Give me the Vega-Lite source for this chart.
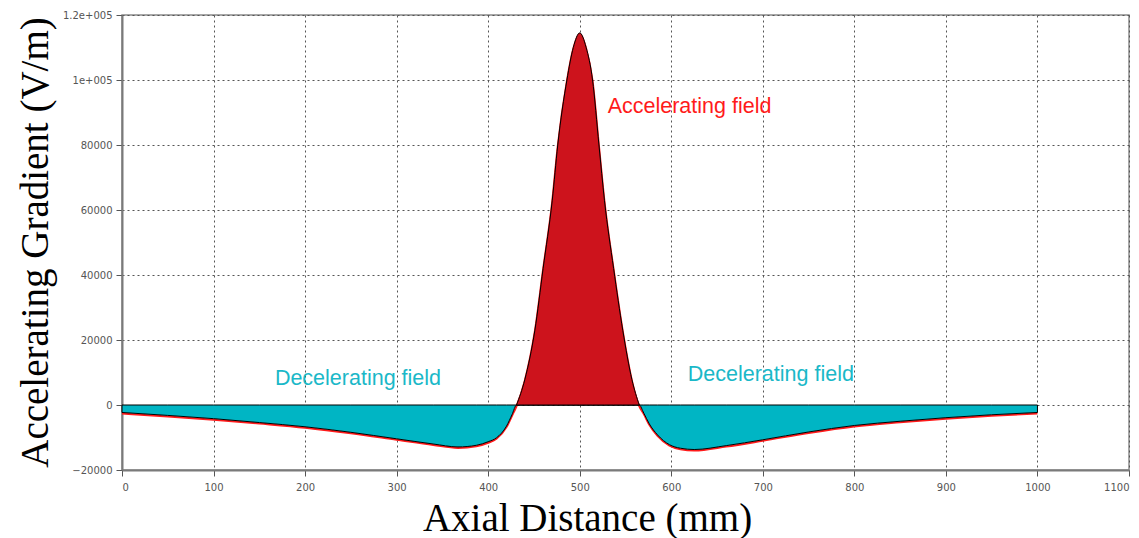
{
  "$schema": "https://vega.github.io/schema/vega-lite/v6.json",
  "width": 1007,
  "height": 455,
  "autosize": {"type": "none"},
  "padding": {"left": 122, "top": 15, "right": 10, "bottom": 68},
  "background": "white",
  "config": {
    "view": {"stroke": "#8a8a8a", "strokeWidth": 1.5},
    "axis": {
      "labelFont": "DejaVu Sans",
      "labelFontSize": 10,
      "labelColor": "#555555",
      "grid": true,
      "gridColor": "#555555",
      "gridDash": [2, 3],
      "gridWidth": 1,
      "domainColor": "#7a7a7a",
      "domainWidth": 2,
      "tickColor": "#555555",
      "tickSize": 6,
      "titleFont": "Liberation Serif",
      "titleFontWeight": "normal",
      "titleColor": "black",
      "titleFontSize": 39
    }
  },
  "datasets": {
    "field": [
      {"x": 0, "v": -2300}, {"x": 50, "v": -3200}, {"x": 100, "v": -4200},
      {"x": 150, "v": -5400}, {"x": 200, "v": -6700}, {"x": 250, "v": -8400},
      {"x": 300, "v": -10400}, {"x": 340, "v": -12000}, {"x": 367, "v": -12900},
      {"x": 387, "v": -12400}, {"x": 400, "v": -11300}, {"x": 409, "v": -10100},
      {"x": 420, "v": -6500}, {"x": 426, "v": -3000}, {"x": 431, "v": 0},
      {"x": 440, "v": 7800}, {"x": 451, "v": 23000}, {"x": 460, "v": 42000},
      {"x": 470, "v": 63000}, {"x": 476, "v": 80000}, {"x": 486, "v": 100000},
      {"x": 493, "v": 110000}, {"x": 500, "v": 114500}, {"x": 507, "v": 110000},
      {"x": 514, "v": 100000}, {"x": 521, "v": 80000}, {"x": 527, "v": 63000},
      {"x": 537, "v": 42000}, {"x": 547, "v": 23000}, {"x": 557, "v": 7800},
      {"x": 565, "v": 0}, {"x": 570, "v": -2500}, {"x": 576, "v": -5800},
      {"x": 585, "v": -9200}, {"x": 598, "v": -12200}, {"x": 610, "v": -13300},
      {"x": 625, "v": -13700}, {"x": 660, "v": -12500}, {"x": 700, "v": -10700},
      {"x": 750, "v": -8300}, {"x": 800, "v": -6300}, {"x": 850, "v": -5000},
      {"x": 900, "v": -3900}, {"x": 950, "v": -3000}, {"x": 1000, "v": -2300}
    ],
    "notes": [
      {"x": 167, "v": 8000, "label": "Decelerating field", "kind": "dec"},
      {"x": 530.5, "v": 91800, "label": "Accelerating field", "kind": "acc"},
      {"x": 618, "v": 9200, "label": "Decelerating field", "kind": "dec"}
    ]
  },
  "encoding": {
    "x": {
      "field": "x", "type": "quantitative",
      "scale": {"domain": [0, 1100], "nice": false},
      "axis": {
        "values": [0, 100, 200, 300, 400, 500, 600, 700, 800, 900, 1000, 1100],
        "format": "d",
        "title": "Axial Distance (mm)",
        "titleX": 465, "titleY": 48, "titleBaseline": "middle", "titleAlign": "center",
        "labelPadding": 6
      }
    },
    "y": {
      "field": "v", "type": "quantitative",
      "scale": {"domain": [-20000, 120000], "nice": false},
      "axis": {
        "values": [-20000, 0, 20000, 40000, 60000, 80000, 100000, 120000],
        "format": "d",
        "labelExpr": "datum.value == 120000 ? '1.2e+005' : datum.value == 100000 ? '1e+005' : datum.label",
        "title": "Accelerating Gradient (V/m)",
        "titleX": -87, "titleY": 227, "titleAngle": -90, "titleAlign": "center", "titleBaseline": "middle",
        "labelPadding": 4
      }
    }
  },
  "layer": [
    {
      "data": {"name": "field"},
      "mark": {"type": "line", "color": "#ff1a1a", "strokeWidth": 2, "interpolate": "monotone", "yOffset": 1}
    },
    {
      "data": {"name": "field"},
      "transform": [{"filter": "datum.v <= 0"}],
      "mark": {"type": "area", "color": "#00b5c4", "stroke": "black", "strokeWidth": 1, "interpolate": "monotone", "opacity": 1},
      "encoding": {"y2": {"datum": 0}}
    },
    {
      "data": {"name": "field"},
      "transform": [{"filter": "datum.x >= 431 && datum.x <= 565"}],
      "mark": {"type": "area", "color": "#cd131c", "stroke": "black", "strokeWidth": 1, "interpolate": "monotone", "opacity": 1},
      "encoding": {"y2": {"datum": 0}}
    },
    {
      "data": {"name": "notes"},
      "mark": {"type": "text", "align": "left", "baseline": "middle", "font": "Liberation Sans", "fontSize": 21.5},
      "encoding": {
        "text": {"field": "label"},
        "color": {"field": "kind", "type": "nominal", "scale": {"domain": ["dec", "acc"], "range": ["#1ab8c8", "#ff1a1a"]}, "legend": null}
      }
    }
  ]
}
